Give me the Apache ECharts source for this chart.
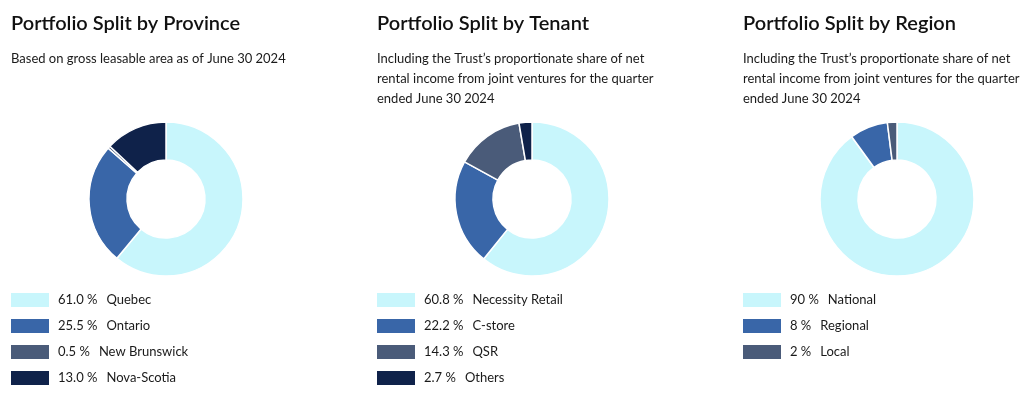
<!DOCTYPE html>
<html><head><meta charset="utf-8">
<script src="https://cdn.jsdelivr.net/npm/echarts@6/dist/echarts.min.js"></script>
<style>html,body{margin:0;padding:0;background:#fff}#c{width:1024px;height:404px}</style>
</head><body><div id="c"></div>
<script>
const provinceNames = ['Quebec', 'Ontario', 'New Brunswick', 'Nova-Scotia'];
const provinceValues = [61.0, 25.5, 0.5, 13.0];
const provinceLabels = ['61.0 %', '25.5 %', '0.5 %', '13.0 %'];

const tenantNames = ['Necessity Retail', 'C-store', 'QSR', 'Others'];
const tenantValues = [60.8, 22.2, 14.3, 2.7];
const tenantLabels = ['60.8 %', '22.2 %', '14.3 %', '2.7 %'];

const regionNames = ['National', 'Regional', 'Local'];
const regionValues = [90, 8, 2];
const regionLabels = ['90 %', '8 %', '2 %'];

const titles = ['Portfolio Split by Province', 'Portfolio Split by Tenant', 'Portfolio Split by Region'];
const subtitles = [
  'Based on gross leasable area as of June 30 2024',
  'Including the Trust\u2019s proportionate share of net\nrental income from joint ventures for the quarter\nended June 30 2024',
  'Including the Trust\u2019s proportionate share of net\nrental income from joint ventures for the quarter\nended June 30 2024'
];

const palette = ['#c8f6fc', '#3966a8', '#4a5b79', '#0f224a'];
const FONT = 'Lato, "Open Sans", sans-serif';

const groups = [
  {names: provinceNames, values: provinceValues, labels: provinceLabels, x: 11, cx: 166},
  {names: tenantNames, values: tenantValues, labels: tenantLabels, x: 377, cx: 532},
  {names: regionNames, values: regionValues, labels: regionLabels, x: 743, cx: 897}
];

const labelMap = {};
groups.forEach(g => g.names.forEach((n, i) => { labelMap[n] = g.labels[i]; }));

const chart = echarts.init(document.getElementById('c'), null, {renderer: 'canvas'});
chart.setOption({
  animation: false,
  color: palette,
  title: groups.map((g, i) => ({
    text: titles[i],
    subtext: subtitles[i],
    left: g.x - 5, top: 9,
    itemGap: 15,
    textStyle: {fontFamily: FONT, fontSize: 20, fontWeight: 600, color: '#111'},
    subtextStyle: {fontFamily: FONT, fontSize: 13, color: '#1a1a1a', lineHeight: 20}
  })),
  legend: groups.map((g, i) => ({
    data: g.names,
    orient: 'vertical',
    left: g.x - 2, top: 291,
    padding: 0,
    icon: 'rect',
    itemWidth: 40, itemHeight: 16, itemGap: 8,
    selectedMode: false,
    formatter: name => '{p|' + labelMap[name] + '}{n|' + name + '}',
    textStyle: {
      fontFamily: FONT, fontSize: 13, color: '#1a1a1a', lineHeight: 16, padding: [0, 0, 0, 3],
      rich: {
        p: {fontFamily: FONT, fontSize: 13, color: '#1a1a1a', lineHeight: 16, padding: [0, 9, 0, 0]},
        n: {fontFamily: FONT, fontSize: 13, color: '#1a1a1a', lineHeight: 16}
      }
    }
  })),
  series: groups.map(g => ({
    type: 'pie',
    center: [g.cx, 199],
    radius: [39, 77],
    startAngle: 90,
    clockwise: true,
    label: {show: false},
    labelLine: {show: false},
    emphasis: {disabled: true},
    itemStyle: {borderColor: '#fff', borderWidth: 1.5},
    data: g.names.map((n, i) => ({name: n, value: g.values[i]}))
  }))
});
</script></body></html>
